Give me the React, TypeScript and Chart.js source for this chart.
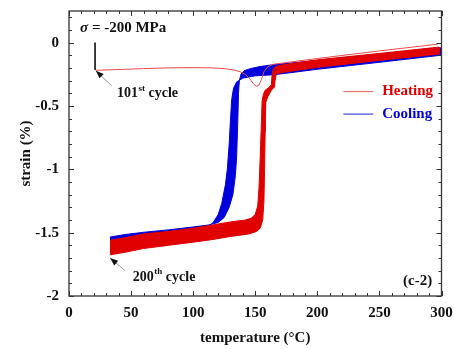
import React, { useEffect, useRef } from "react";
import { Chart, registerables } from "chart.js";

Chart.register(...registerables);

// ---------- axes ----------
const xTickLabels = [0, 50, 100, 150, 200, 250, 300];
const yTickLabels = [-2, -1.5, -1, -0.5, 0];
const X_MIN = 0;
const X_MAX = 300;
const Y_MIN = -2;
const Y_MAX = 0.25;
const X_MINOR = 10;
const Y_MINOR = 0.1;

// ---------- data (temperature °C, strain %) ----------
const initialLoadT = [21, 21];
const initialLoadStrain = [0, -0.215];

const heating101T = [21.5, 40, 60, 80, 100, 115, 125, 132, 138, 142, 146, 149, 151, 153, 155, 157, 160, 165, 200, 250, 297];
const heating101Strain = [-0.218, -0.212, -0.205, -0.199, -0.197, -0.199, -0.205, -0.214, -0.23, -0.25, -0.29, -0.33, -0.345, -0.335, -0.29, -0.23, -0.19, -0.17, -0.125, -0.065, -0.012];

const heatingUpperT = [33, 45, 60, 80, 100, 115, 130, 142, 147, 150, 152, 153, 154, 155, 155.5, 156.5, 158, 161, 163, 163.5, 164.5, 167, 172, 200, 250, 298];
const heatingUpperStrain = [-1.56, -1.54, -1.51, -1.49, -1.465, -1.44, -1.415, -1.4, -1.385, -1.355, -1.29, -1.15, -0.9, -0.62, -0.46, -0.41, -0.375, -0.355, -0.33, -0.26, -0.21, -0.185, -0.175, -0.135, -0.085, -0.035];
const heatingLowerT = [33, 45, 60, 80, 100, 115, 130, 145, 151, 154, 156, 157, 157.5, 158, 158.5, 160, 163, 165.5, 166, 167, 172, 200, 250, 298];
const heatingLowerStrain = [-1.675, -1.655, -1.625, -1.6, -1.575, -1.555, -1.53, -1.51, -1.49, -1.465, -1.4, -1.25, -1.0, -0.7, -0.47, -0.43, -0.375, -0.35, -0.3, -0.245, -0.235, -0.195, -0.14, -0.09];

const coolingUpperT = [33, 45, 60, 80, 100, 112, 120, 125, 129, 132, 134, 135, 136, 136.5, 137.2, 138.5, 141, 146, 153, 162, 200, 250, 299];
const coolingUpperStrain = [-1.535, -1.515, -1.497, -1.478, -1.455, -1.44, -1.42, -1.38, -1.3, -1.2, -1.05, -0.9, -0.6, -0.4, -0.3, -0.25, -0.222, -0.205, -0.19, -0.177, -0.14, -0.09, -0.04];
const coolingLowerT = [33, 50, 70, 90, 105, 112, 116, 120, 123, 126, 127.5, 129, 130, 131, 132.5, 135, 140, 150, 162, 172, 200, 250, 299];
const coolingLowerStrain = [-1.56, -1.54, -1.515, -1.49, -1.475, -1.455, -1.42, -1.36, -1.27, -1.12, -1.0, -0.8, -0.62, -0.45, -0.36, -0.31, -0.28, -0.262, -0.255, -0.245, -0.21, -0.155, -0.1];

const RED = "#e00000";
const BLUE = "#0000dd";
const FONT = '"Liberation Serif", "Times New Roman", serif';

function pts(xs: number[], ys: number[]) {
  return xs.map((x, i) => ({ x, y: ys[i] }));
}
function band(ux: number[], uy: number[], lx: number[], ly: number[]) {
  return [...pts(ux, uy), ...pts(lx, ly).reverse()];
}

const decorPlugin = {
  id: "decor",
  afterDatasetsDraw(chart: any) {
    const { ctx, chartArea: a, scales } = chart;
    const xs = scales.x;
    const ys = scales.y;
    const X = (v: number) => xs.getPixelForValue(v);
    const Y = (v: number) => ys.getPixelForValue(v);
    ctx.save();
    // frame
    ctx.strokeStyle = "#333";
    ctx.lineWidth = 1.3;
    ctx.strokeRect(a.left, a.top, a.right - a.left, a.bottom - a.top);
    ctx.lineWidth = 1;
    const seg = (x1: number, y1: number, x2: number, y2: number) => {
      ctx.beginPath();
      ctx.moveTo(x1, y1);
      ctx.lineTo(x2, y2);
      ctx.stroke();
    };
    const nX = Math.floor((X_MAX - X_MIN) / X_MINOR + 1e-6);
    for (let i = 0; i <= nX; i++) {
      const v = X_MIN + i * X_MINOR;
      const major = xTickLabels.includes(v);
      const len = major ? 5 : 3;
      const px = Math.round(X(v)) + 0.5;
      seg(px, a.bottom, px, a.bottom - len);
      seg(px, a.top, px, a.top + len);
    }
    const nY = Math.floor((Y_MAX - Y_MIN) / Y_MINOR + 1e-6);
    for (let i = 0; i <= nY; i++) {
      const v = +(Y_MIN + i * Y_MINOR).toFixed(2);
      const major = yTickLabels.includes(v);
      const len = major ? 5 : 3;
      const py = Math.round(Y(v)) + 0.5;
      seg(a.left, py, a.left + len, py);
      seg(a.right, py, a.right - len, py);
    }

    // legend
    ctx.lineWidth = 1.2;
    ctx.strokeStyle = "#f07070";
    seg(X(221), Y(-0.386), X(245), Y(-0.386));
    ctx.strokeStyle = "#4444dd";
    seg(X(221), Y(-0.564), X(245), Y(-0.564));
    ctx.font = `bold 15px ${FONT}`;
    ctx.textBaseline = "middle";
    ctx.textAlign = "left";
    ctx.fillStyle = RED;
    ctx.fillText("Heating", X(252.2), Y(-0.386));
    ctx.fillStyle = BLUE;
    ctx.fillText("Cooling", X(252.2), Y(-0.564));

    // sigma label
    ctx.fillStyle = "#111";
    ctx.font = `italic bold 15px ${FONT}`;
    const sx = X(8.9);
    const sy = Y(0.118);
    ctx.fillText("σ", sx, sy);
    const sw = ctx.measureText("σ").width;
    ctx.font = `bold 15px ${FONT}`;
    ctx.fillText(" = -200 MPa", sx + sw, sy);

    // cycle labels with superscripts
    const cycleLabel = (x: number, y: number, num: string, sup: string) => {
      ctx.font = `bold 14px ${FONT}`;
      ctx.fillText(num, x, y);
      let w = ctx.measureText(num).width;
      ctx.font = `bold 9px ${FONT}`;
      ctx.fillText(sup, x + w + 0.5, y - 5);
      w += ctx.measureText(sup).width + 0.5;
      ctx.font = `bold 14px ${FONT}`;
      ctx.fillText(" cycle", x + w, y);
    };
    cycleLabel(X(38.7), Y(-0.404), "101", "st");
    cycleLabel(X(51.4), Y(-1.85), "200", "th");

    // arrows
    const arrow = (tx: number, ty: number, hx: number, hy: number) => {
      const x1 = X(tx), y1 = Y(ty), x2 = X(hx), y2 = Y(hy);
      ctx.strokeStyle = "#999";
      ctx.lineWidth = 1;
      seg(x1, y1, x2, y2);
      const ang = Math.atan2(y2 - y1, x2 - x1);
      const L = 8, W = 3;
      ctx.fillStyle = "#111";
      ctx.beginPath();
      ctx.moveTo(x2, y2);
      ctx.lineTo(x2 - L * Math.cos(ang) + W * Math.sin(ang), y2 - L * Math.sin(ang) - W * Math.cos(ang));
      ctx.lineTo(x2 - L * Math.cos(ang) - W * Math.sin(ang), y2 - L * Math.sin(ang) + W * Math.cos(ang));
      ctx.closePath();
      ctx.fill();
    };
    arrow(34.4, -0.341, 21.6, -0.221);
    arrow(45.2, -1.8, 33.1, -1.7);

    // panel label
    ctx.fillStyle = "#111";
    ctx.font = `bold 15px ${FONT}`;
    ctx.textAlign = "right";
    ctx.fillText("(c-2)", X(292.5), Y(-1.884));
    ctx.restore();
  },
};

export default function App() {
  const ref = useRef<HTMLCanvasElement | null>(null);
  useEffect(() => {
    if (!ref.current) return;
    const chart = new Chart(ref.current, {
      type: "scatter",
      data: {
        datasets: [
          {
            label: "initial",
            data: pts(initialLoadT, initialLoadStrain),
            showLine: true,
            borderColor: "#222",
            borderWidth: 1,
            pointRadius: 0,
          },
          {
            label: "Heating 101",
            data: pts(heating101T, heating101Strain),
            showLine: true,
            borderColor: "#ee4a4a",
            borderWidth: 1,
            pointRadius: 0,
          },
          {
            label: "Heating",
            data: band(heatingUpperT, heatingUpperStrain, heatingLowerT, heatingLowerStrain),
            showLine: true,
            borderColor: RED,
            backgroundColor: RED,
            borderWidth: 1,
            pointRadius: 0,
            fill: "shape",
          },
          {
            label: "Cooling",
            data: band(coolingUpperT, coolingUpperStrain, coolingLowerT, coolingLowerStrain),
            showLine: true,
            borderColor: BLUE,
            backgroundColor: BLUE,
            borderWidth: 1,
            pointRadius: 0,
            fill: "shape",
          },
        ] as any,
      },
      options: {
        animation: false,
        responsive: false,
        events: [],
        layout: { padding: { left: 0, top: 11, right: 13.5, bottom: 0 } },
        plugins: { legend: { display: false }, tooltip: { enabled: false } },
        scales: {
          x: {
            type: "linear",
            min: X_MIN,
            max: X_MAX,
            border: { display: false },
            grid: { display: false, drawTicks: false },
            ticks: {
              stepSize: 50,
              padding: 8,
              color: "#111",
              font: { family: FONT, size: 15, weight: "bold" },
              callback: (v: any) => (xTickLabels.includes(Number(v)) ? String(v) : ""),
            },
            title: {
              display: true,
              text: "temperature (°C)",
              color: "#111",
              font: { family: FONT, size: 15, weight: "bold" },
              padding: { top: 0, bottom: 2 },
            },
            afterFit: (s: any) => {
              s.height = 53;
              s.paddingLeft = 0;
              s.paddingRight = 0;
            },
          },
          y: {
            type: "linear",
            min: Y_MIN,
            max: Y_MAX,
            border: { display: false },
            grid: { display: false, drawTicks: false },
            ticks: {
              stepSize: 0.5,
              includeBounds: false,
              padding: 10,
              color: "#111",
              font: { family: FONT, size: 15, weight: "bold" },
              callback: (v: any) => (yTickLabels.includes(Number(v)) ? String(v) : ""),
            },
            title: {
              display: true,
              text: "strain (%)",
              color: "#111",
              font: { family: FONT, size: 15, weight: "bold" },
              padding: { top: 17, bottom: 0 },
            },
            afterFit: (s: any) => {
              s.width = 69;
              s.paddingTop = 0;
              s.paddingBottom = 0;
            },
          },
        },
      } as any,
      plugins: [decorPlugin],
    });
    return () => chart.destroy();
  }, []);
  return (
    <div style={{ position: "fixed", left: 0, top: 0, width: 455, height: 349, background: "#fff" }}>
      <canvas ref={ref} width={455} height={349} style={{ width: 455, height: 349, display: "block" }} />
    </div>
  );
}
